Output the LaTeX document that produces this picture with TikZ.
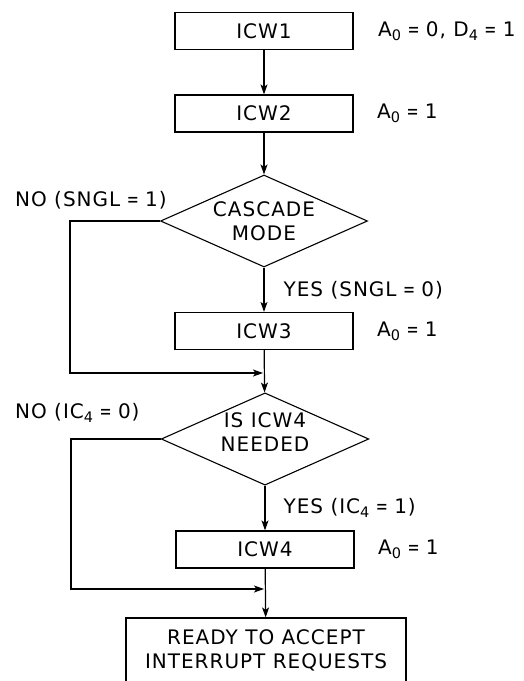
\documentclass[tikz,border=0pt]{standalone}
\usepackage{fontspec}
\setmainfont{DejaVu Sans}[LetterSpace=5]
\usetikzlibrary{arrows.meta, shapes.geometric, positioning}

\newcommand{\lowsub}[1]{\raisebox{-0.35ex}{\fontsize{14.5}{14.5}\selectfont #1}}
\newcommand{\eqs}{\hspace{0.32em}\scalebox{0.72}[1]{=}\hspace{0.32em}}

\begin{document}
\begin{tikzpicture}[>=Stealth, x=1pt, y=-1pt, font=\fontsize{20}{24}\selectfont]
	\useasboundingbox (0,0) rectangle (524,681);
	% ------------------------------------------------------------------
	% STYLE DEFINITIONS
	% ------------------------------------------------------------------
	\tikzset{
		stepbox/.style = {draw, line width=1.2pt, minimum width=178pt, minimum height=37pt, inner sep=0pt},
		decide/.style  = {draw, diamond, line width=1.1pt, aspect=2.25, minimum width=207pt, minimum height=92pt, inner sep=0pt, align=center},
		flow/.style    = {line width=1.2pt, -{Stealth[length=10pt,width=7pt,inset=2.5pt]}},
		note/.style    = {anchor=west, inner sep=0pt}
	}
	
	% --- Initialisation words ---
	\node[stepbox] (icw1) at (264,31) {ICW1};
	\node[note] (a1) at (378,31) {A\lowsub{0}\eqs 0, D\lowsub{4}\eqs 1};
	
	\node[stepbox] (icw2) at (264,113.5) {ICW2};
	\node[note] (a2) at (377,113.5) {A\lowsub{0}\eqs 1};
	
	\node[decide] (cas) at (264,221) {CASCADE\\MODE};
	\node[note] (cno) at (15,200) {NO (SNGL\eqs 1)};
	
	\node[stepbox] (icw3) at (264,331) {ICW3};
	\node[note] (a3) at (377,331) {A\lowsub{0}\eqs 1};
	
	\node[decide] (ism) at (265,439) {IS ICW4\\NEEDED\\[-10pt]};
	\node[note] (ino) at (15,413) {NO (IC\lowsub{4}\eqs 0)};
	
	\node[stepbox] (icw4) at (265,549.5) {ICW4};
	\node[note] (a4) at (378,549.5) {A\lowsub{0}\eqs 1};
	
	\node[draw, line width=1.2pt, minimum width=280pt, minimum height=64pt, inner sep=0pt, align=center] (ready) at (266,650) {READY TO ACCEPT\\INTERRUPT REQUESTS};
	
	% --- Joins and bends ---
	\coordinate (j1) at (264,373);
	\coordinate (n1) at (70,373);
	\coordinate (j2) at (265,589);
	\coordinate (n2) at (71,589);
	
	% --- Connectors ---
	\draw[flow] (icw1) -- (icw2);
	\draw[flow] (icw2) -- (cas);
	\draw[flow] (cas) -- (icw3) node[note, pos=0.5, xshift=19pt] {YES (SNGL\eqs 0)};
	\draw[flow] (icw3) -- (ism);
	\draw[flow] (cas.west) -| (n1) -- ([xshift=-1pt]j1);
	\draw[flow] (ism) -- (icw4) node[note, pos=0.5, xshift=18pt] {YES (IC\lowsub{4}\eqs 1)};
	\draw[flow] (icw4) -- (ready);
	\draw[flow] (ism.west) -| (n2) -- ([xshift=-1pt]j2);
	
\end{tikzpicture}
\end{document}
